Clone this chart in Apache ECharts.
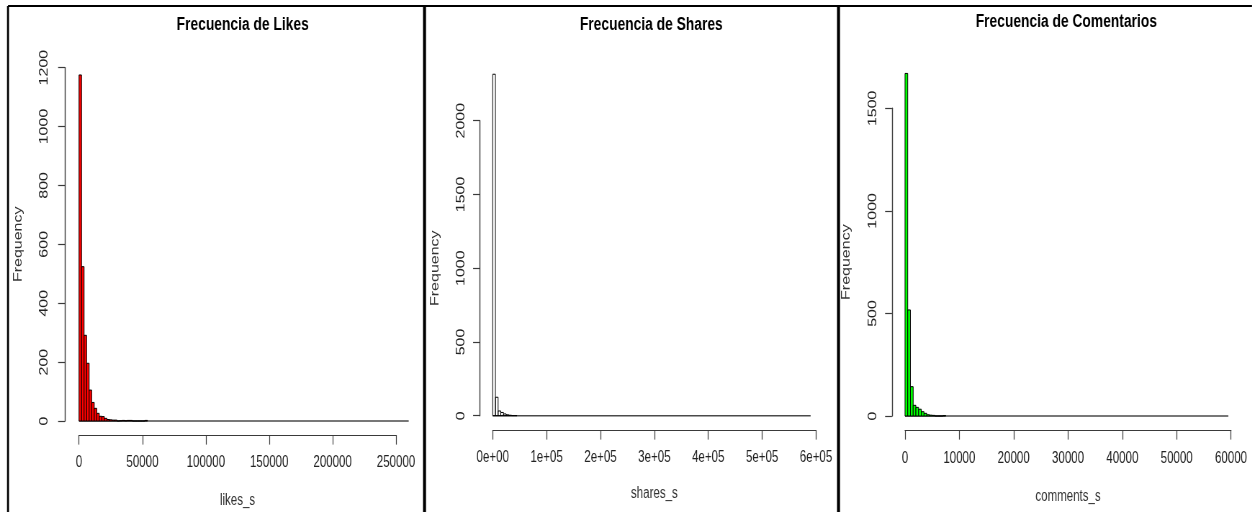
<!DOCTYPE html>
<html>
<head>
<meta charset="utf-8">
<script src="https://cdn.jsdelivr.net/npm/echarts@6/dist/echarts.min.js"></script>
<style>
html,body{margin:0;padding:0;background:#fff;overflow:hidden;}
#wrap{width:1252px;height:512px;overflow:hidden;position:relative;}
#c{width:1739px;height:512px;transform:scaleX(0.72);transform-origin:0 0;}
</style>
</head>
<body>
<div id="wrap"><div id="c"></div></div>
<script>
// ---------------- DATA ----------------
const titles = ['Frecuencia de Likes', 'Frecuencia de Shares', 'Frecuencia de Comentarios'];
const xNames = ['likes_s', 'shares_s', 'comments_s'];
const yName = 'Frequency';

// histogram bin widths and last break of each variable
const likesBinWidth = 2000;
const sharesBinWidth = 5000;
const commentsBinWidth = 500;
const likesMax = 260000;
const sharesMax = 590000;
const commentsMax = 59500;

// counts per bin (starting at 0); remaining bins up to the max are empty
const likesCounts = [1175, 524, 291, 196, 105, 63, 43, 26, 16, 15, 9, 5, 4, 3, 3, 0, 1, 2, 1, 2, 2, 0, 0, 0, 0, 0, 2];
const sharesCounts = [2315, 125, 32, 22, 12, 6, 3, 1, 1];
const commentsCounts = [1670, 517, 143, 52, 42, 33, 21, 13, 6, 4, 3, 0, 0, 0, 2];

// tick labels
const likesXTicks = ['0', '50000', '100000', '150000', '200000', '250000'];
const sharesXTicks = ['0e+00', '1e+05', '2e+05', '3e+05', '4e+05', '5e+05', '6e+05'];
const commentsXTicks = ['0', '10000', '20000', '30000', '40000', '50000', '60000'];
const likesYTicks = ['0', '200', '400', '600', '800', '1000', '1200'];
const sharesYTicks = ['0', '500', '1000', '1500', '2000'];
const commentsYTicks = ['0', '500', '1000', '1500'];

// ---------------- LAYOUT ----------------
const S = 0.72;               // horizontal squeeze of the picture
const X = v => v / S;         // picture x -> unscaled x
const FONT = 'Liberation Sans, Arial, Helvetica, sans-serif';

const panels = [
  { counts: likesCounts, bw: likesBinWidth, max: likesMax, fill: '#ff0000',
    xTicks: likesXTicks, yTicks: likesYTicks, xInterval: 50000, yInterval: 200,
    x0: 79, x1: 396, yTop: 67.6, yBot: 421, xAxisY: 435, yAxisX: 65,
    xLabMargin: 20, yLabMargin: 21, xNameGap: 58, yNameGap: 57,
    titleX: 242.7, titleTop: 15 },
  { counts: sharesCounts, bw: sharesBinWidth, max: sharesMax, fill: 'rgba(255,255,255,0)',
    xTicks: sharesXTicks, yTicks: sharesYTicks, xInterval: 100000, yInterval: 500,
    x0: 492.7, x1: 816, yTop: 120.7, yBot: 415.7, xAxisY: 430, yAxisX: 480,
    xLabMargin: 20, yLabMargin: 18.5, xNameGap: 56, yNameGap: 54.5,
    titleX: 651.3, titleTop: 15 },
  { counts: commentsCounts, bw: commentsBinWidth, max: commentsMax, fill: '#00ff00',
    xTicks: commentsXTicks, yTicks: commentsYTicks, xInterval: 10000, yInterval: 500,
    x0: 905, x1: 1231, yTop: 108.3, yBot: 416, xAxisY: 430, yAxisX: 892,
    xLabMargin: 21, yLabMargin: 18.5, xNameGap: 59, yNameGap: 55.5,
    titleX: 1066.3, titleTop: 12.5 }
];

const grid = [], xAxis = [], yAxis = [], series = [], title = [];
panels.forEach((p, i) => {
  const xMaxTick = p.xInterval * (p.xTicks.length - 1);
  const yMaxTick = p.yInterval * (p.yTicks.length - 1);
  grid.push({ left: X(p.x0), width: X(p.x1 - p.x0), top: p.yTop, height: p.yBot - p.yTop,
              containLabel: false, outerBoundsMode: 'none' });
  xAxis.push({
    type: 'value', gridIndex: i, min: 0, max: xMaxTick, interval: p.xInterval,
    position: 'bottom', offset: p.xAxisY - p.yBot,
    axisLine: { show: true, onZero: false, lineStyle: { color: '#3a3a3a', width: 1.2 } },
    axisTick: { show: true, inside: false, length: 9.6, lineStyle: { color: '#3a3a3a', width: 1.2 } },
    axisLabel: { show: true, fontSize: 16, fontFamily: FONT, color: '#222', margin: p.xLabMargin,
                 formatter: v => p.xTicks[Math.round(v / p.xInterval)] },
    splitLine: { show: false },
    name: xNames[i], nameLocation: 'middle', nameGap: p.xNameGap, nameMoveOverlap: false,
    nameTextStyle: { fontSize: 16, fontFamily: FONT, color: '#333' }
  });
  yAxis.push({
    type: 'value', gridIndex: i, min: 0, max: yMaxTick, interval: p.yInterval,
    position: 'left', offset: X(p.x0 - p.yAxisX),
    axisLine: { show: true, onZero: false, lineStyle: { color: '#3a3a3a', width: 1.4 } },
    axisTick: { show: true, inside: false, length: 9.6, lineStyle: { color: '#3a3a3a', width: 1.2 } },
    axisLabel: { show: true, rotate: 90, fontSize: 16, fontFamily: FONT, color: '#222', margin: p.yLabMargin,
                 formatter: v => p.yTicks[Math.round(v / p.yInterval)] },
    splitLine: { show: false },
    name: yName, nameLocation: 'middle', nameGap: p.yNameGap, nameRotate: 90, nameMoveOverlap: false,
    nameTextStyle: { fontSize: 16, fontFamily: FONT, color: '#333' }
  });
  title.push({
    text: titles[i], left: X(p.titleX), top: p.titleTop, textAlign: 'center', padding: 0,
    textStyle: { fontSize: 19.2, fontWeight: 'bold', fontFamily: FONT, color: '#000' }
  });
  // empty bins drawn as a line along zero up to the last break
  series.push({
    type: 'custom', xAxisIndex: i, yAxisIndex: i, clip: false, silent: true, z: 1,
    data: [[0, p.max]],
    renderItem: (params, api) => {
      const a = api.coord([api.value(0), 0]);
      const b = api.coord([api.value(1), 0]);
      return { type: 'line', shape: { x1: a[0], y1: a[1], x2: b[0], y2: b[1] },
               style: { stroke: '#4a4a4a', lineWidth: 1.4 } };
    }
  });
  series.push({
    type: 'custom', xAxisIndex: i, yAxisIndex: i, clip: false, silent: true, z: 2,
    data: p.counts.map((c, k) => [k * p.bw, c]),
    renderItem: (params, api) => {
      const x0 = api.value(0), c = api.value(1);
      const a = api.coord([x0, c]);
      const b = api.coord([x0 + p.bw, 0]);
      return { type: 'rect', shape: { x: a[0], y: a[1], width: b[0] - a[0], height: b[1] - a[1] },
               style: { fill: p.fill, stroke: '#000', lineWidth: 1 } };
    }
  });
});

const graphic = [
  { type: 'line', shape: { x1: X(8), y1: 6, x2: X(1252), y2: 6 }, style: { stroke: '#000', lineWidth: 2 } },
  { type: 'line', shape: { x1: X(8), y1: 6, x2: X(8), y2: 512 }, style: { stroke: '#000', lineWidth: 2 / S } },
  { type: 'line', shape: { x1: X(424.5), y1: 6, x2: X(424.5), y2: 512 }, style: { stroke: '#000', lineWidth: 3 / S } },
  { type: 'line', shape: { x1: X(838.5), y1: 6, x2: X(838.5), y2: 512 }, style: { stroke: '#000', lineWidth: 3 / S } }
];

const chart = echarts.init(document.getElementById('c'), null, { renderer: 'canvas' });
chart.setOption({
  backgroundColor: '#fff',
  animation: false,
  title, grid, xAxis, yAxis, series, graphic,
  tooltip: { show: false }
});
</script>
</body>
</html>
